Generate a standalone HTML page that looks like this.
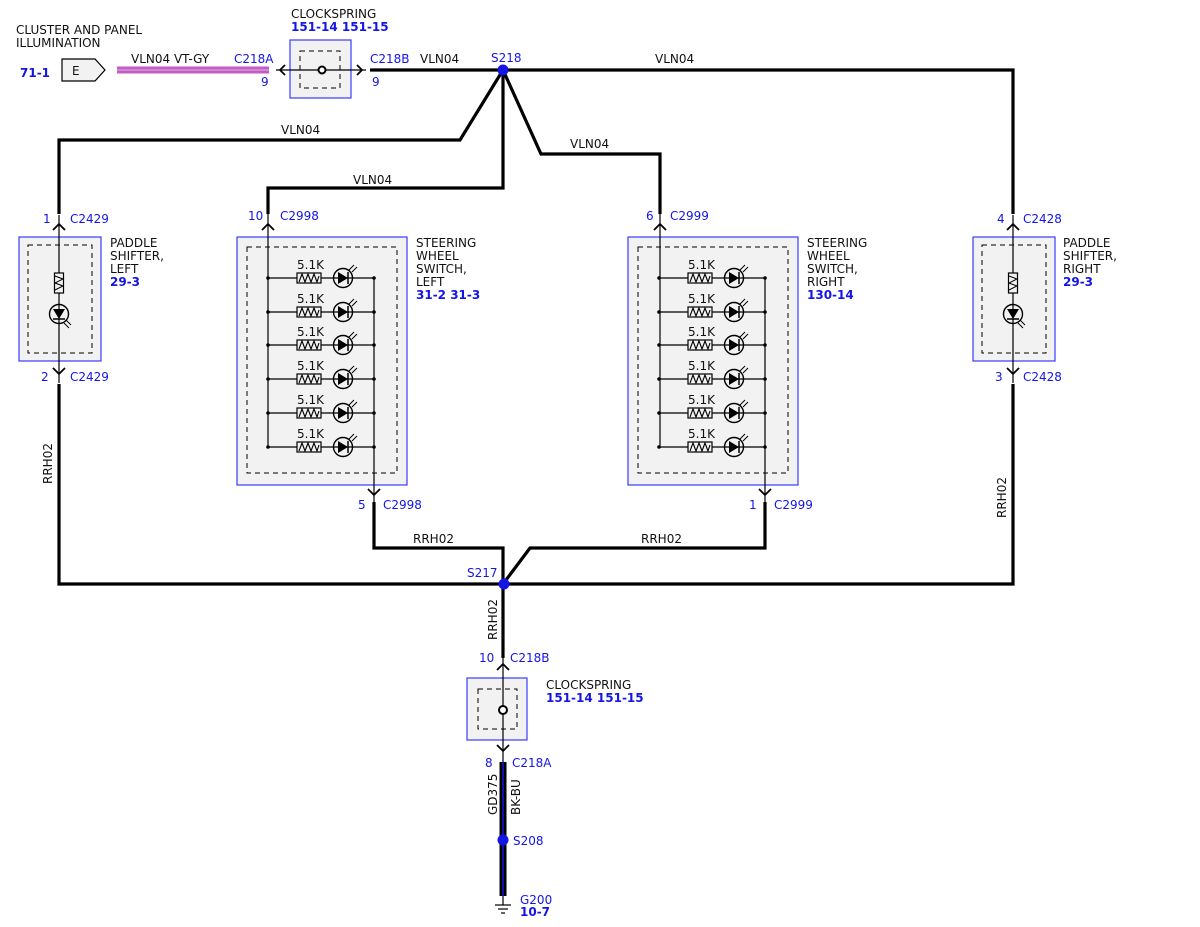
<!DOCTYPE html>
<html><head><meta charset="utf-8"><style>
html,body{margin:0;padding:0;background:#fff}
svg{display:block}
text{font-family:"DejaVu Sans","Liberation Sans",sans-serif;font-size:12px}
.b{fill:#1515e6}
.bb{fill:#1515e6;font-weight:bold}
.k{fill:#111}
</style></head><body>
<svg width="1200" height="927" viewBox="0 0 1200 927" xmlns="http://www.w3.org/2000/svg">
<defs>
<g id="row">
  <line x1="0" y1="0" x2="106" y2="0" stroke="#000" stroke-width="1.2"/>
  <rect x="29" y="-5" width="24" height="10" fill="#f2f2f2" stroke="#000" stroke-width="1.2"/>
  <polyline points="31,4 34,-4 37,4 40,-4 43,4 46,-4 49,4 51,-2" fill="none" stroke="#000" stroke-width="1.1"/>
  <circle cx="75" cy="0" r="9.5" fill="#f2f2f2" stroke="#000" stroke-width="1.4"/>
  <line x1="66" y1="0" x2="84" y2="0" stroke="#000" stroke-width="1.2"/>
  <polygon points="70,-6 70,6 80,0" fill="#000"/>
  <line x1="80" y1="-6" x2="80" y2="6" stroke="#000" stroke-width="1.5"/>
  <line x1="81" y1="-8" x2="86" y2="-13" stroke="#000" stroke-width="1"/>
  <line x1="84" y1="-6" x2="89" y2="-11" stroke="#000" stroke-width="1"/>
  <circle cx="0" cy="0" r="1.8" fill="#000"/>
  <circle cx="106" cy="0" r="1.8" fill="#000"/>
</g>
<g id="upar"><polyline points="-6,5 0,-1 6,5" fill="none" stroke="#000" stroke-width="1.8"/></g>
<g id="dnar"><polyline points="-6,-5 0,1 6,-5" fill="none" stroke="#000" stroke-width="1.8"/></g>
<g id="pad">
  <rect x="-40" y="0" width="82" height="124" fill="#f2f2f2" stroke="#3a3aff" stroke-width="1.2"/>
  <rect x="-31" y="8" width="64" height="108" fill="none" stroke="#000" stroke-dasharray="5,4"/>
  <line x1="0" y1="-22" x2="0" y2="146" stroke="#000" stroke-width="1.2"/>
  <rect x="-4.5" y="36" width="9" height="20" fill="#f2f2f2" stroke="#000" stroke-width="1.2"/>
  <polyline points="-4,39 4,42 -4,46 4,49 -4,53" fill="none" stroke="#000"/>
  <circle cx="0" cy="77" r="9.5" fill="#f2f2f2" stroke="#000" stroke-width="1.4"/>
  <line x1="0" y1="68" x2="0" y2="86" stroke="#000" stroke-width="1.2"/>
  <polygon points="-6,72 6,72 0,82" fill="#000"/>
  <line x1="-6" y1="82" x2="6" y2="82" stroke="#000" stroke-width="1.5"/>
  <line x1="7" y1="83" x2="12" y2="88" stroke="#000"/>
  <line x1="5" y1="86" x2="10" y2="91" stroke="#000"/>
</g>
</defs>

<text x="16" y="34" class="k">CLUSTER AND PANEL</text>
<text x="16" y="47" class="k">ILLUMINATION</text>
<text x="20" y="77" class="bb">71-1</text>
<polygon points="62,59 95,59 105,70 95,81 62,81" fill="#f2f2f2" stroke="#000" stroke-width="1.2"/>
<text x="72" y="75" class="k">E</text>
<rect x="117" y="66.5" width="152" height="7" fill="#c85ac8"/>
<line x1="117" y1="70" x2="269" y2="70" stroke="#fff" stroke-width="1.2"/>
<line x1="117" y1="70" x2="269" y2="70" stroke="#7a2b7a" stroke-width="0.5"/>
<text x="131" y="63" class="k">VLN04  VT-GY</text>
<text x="234" y="63" class="b">C218A</text>
<text x="261" y="86" class="b">9</text>
<text x="291" y="18" class="k">CLOCKSPRING</text>
<text x="291" y="31" class="bb">151-14 151-15</text>
<rect x="290" y="40" width="61" height="58" fill="#f2f2f2" stroke="#3a3aff" stroke-width="1.2"/>
<rect x="300" y="51" width="40" height="37" fill="none" stroke="#000" stroke-dasharray="5,4"/>
<line x1="276" y1="70" x2="366" y2="70" stroke="#000" stroke-width="1.2"/>
<circle cx="322" cy="70" r="3.5" fill="#fff" stroke="#000" stroke-width="2"/>
<polyline points="285,65 280,70 285,75" fill="none" stroke="#000" stroke-width="1.8"/>
<polyline points="357,65 362,70 357,75" fill="none" stroke="#000" stroke-width="1.8"/>
<text x="370" y="63" class="b">C218B</text>
<text x="372" y="86" class="b">9</text>

<g fill="none" stroke="#000" stroke-width="3.2">
<polyline points="370,70 1013,70 1013,214"/>
<polyline points="503,70 460,140 59,140 59,214"/>
<polyline points="503,70 503,188 268,188 268,214"/>
<polyline points="503,70 541,154 660,154 660,214"/>
<polyline points="59,384 59,584 1013,584 1013,384"/>
<polyline points="374,502 374,548 503,548 503,658"/>
<polyline points="503,584 530,548 765,548 765,502"/>
</g>
<text x="420" y="63" class="k">VLN04</text>
<text x="655" y="63" class="k">VLN04</text>
<text x="281" y="134" class="k">VLN04</text>
<text x="353" y="184" class="k">VLN04</text>
<text x="570" y="148" class="k">VLN04</text>
<text x="413" y="543" class="k">RRH02</text>
<text x="641" y="543" class="k">RRH02</text>
<text transform="translate(52,484) rotate(-90)" class="k">RRH02</text>
<text transform="translate(1006,518) rotate(-90)" class="k">RRH02</text>
<text transform="translate(497,640) rotate(-90)" class="k">RRH02</text>
<circle cx="503" cy="70" r="5.5" fill="#1515e6"/>
<text x="491" y="62" class="b">S218</text>
<circle cx="504" cy="584" r="5.5" fill="#1515e6"/>
<text x="467" y="577" class="b">S217</text>

<use href="#pad" x="59" y="237"/>
<use href="#upar" x="59" y="225"/>
<use href="#dnar" x="59" y="373"/>
<text x="43" y="223" class="b">1</text><text x="70" y="223" class="b">C2429</text>
<text x="41" y="381" class="b">2</text><text x="70" y="381" class="b">C2429</text>
<text x="110" y="247" class="k">PADDLE</text>
<text x="110" y="260" class="k">SHIFTER,</text>
<text x="110" y="273" class="k">LEFT</text>
<text x="110" y="286" class="bb">29-3</text>

<use href="#pad" x="1013" y="237"/>
<use href="#upar" x="1013" y="225"/>
<use href="#dnar" x="1013" y="373"/>
<text x="997" y="223" class="b">4</text><text x="1023" y="223" class="b">C2428</text>
<text x="995" y="381" class="b">3</text><text x="1023" y="381" class="b">C2428</text>
<text x="1063" y="247" class="k">PADDLE</text>
<text x="1063" y="260" class="k">SHIFTER,</text>
<text x="1063" y="273" class="k">RIGHT</text>
<text x="1063" y="286" class="bb">29-3</text>

<rect x="237" y="237" width="170" height="248" fill="#f2f2f2" stroke="#3a3aff" stroke-width="1.2"/>
<rect x="247" y="247" width="150" height="226" fill="none" stroke="#000" stroke-dasharray="5,4"/>
<line x1="268" y1="212" x2="268" y2="447" stroke="#000" stroke-width="1.2"/>
<line x1="374" y1="278" x2="374" y2="504" stroke="#000" stroke-width="1.2"/>
<g transform="translate(268,0)">
<use href="#row" y="278"/><use href="#row" y="312"/><use href="#row" y="345"/>
<use href="#row" y="379"/><use href="#row" y="413"/><use href="#row" y="447"/>
</g>
<text x="297" y="269" class="k">5.1K</text><text x="297" y="303" class="k">5.1K</text><text x="297" y="336" class="k">5.1K</text>
<text x="297" y="370" class="k">5.1K</text><text x="297" y="404" class="k">5.1K</text><text x="297" y="438" class="k">5.1K</text>
<use href="#upar" x="268" y="225"/>
<use href="#dnar" x="374" y="494"/>
<text x="248" y="220" class="b">10</text><text x="280" y="220" class="b">C2998</text>
<text x="358" y="509" class="b">5</text><text x="383" y="509" class="b">C2998</text>
<text x="416" y="247" class="k">STEERING</text>
<text x="416" y="260" class="k">WHEEL</text>
<text x="416" y="273" class="k">SWITCH,</text>
<text x="416" y="286" class="k">LEFT</text>
<text x="416" y="299" class="bb">31-2  31-3</text>

<rect x="628" y="237" width="170" height="248" fill="#f2f2f2" stroke="#3a3aff" stroke-width="1.2"/>
<rect x="638" y="247" width="150" height="226" fill="none" stroke="#000" stroke-dasharray="5,4"/>
<line x1="660" y1="212" x2="660" y2="447" stroke="#000" stroke-width="1.2"/>
<line x1="765" y1="278" x2="765" y2="504" stroke="#000" stroke-width="1.2"/>
<g transform="translate(659,0)">
<use href="#row" y="278"/><use href="#row" y="312"/><use href="#row" y="345"/>
<use href="#row" y="379"/><use href="#row" y="413"/><use href="#row" y="447"/>
</g>
<text x="688" y="269" class="k">5.1K</text><text x="688" y="303" class="k">5.1K</text><text x="688" y="336" class="k">5.1K</text>
<text x="688" y="370" class="k">5.1K</text><text x="688" y="404" class="k">5.1K</text><text x="688" y="438" class="k">5.1K</text>
<use href="#upar" x="660" y="225"/>
<use href="#dnar" x="765" y="494"/>
<text x="646" y="220" class="b">6</text><text x="670" y="220" class="b">C2999</text>
<text x="749" y="509" class="b">1</text><text x="774" y="509" class="b">C2999</text>
<text x="807" y="247" class="k">STEERING</text>
<text x="807" y="260" class="k">WHEEL</text>
<text x="807" y="273" class="k">SWITCH,</text>
<text x="807" y="286" class="k">RIGHT</text>
<text x="807" y="299" class="bb">130-14</text>

<use href="#upar" x="503" y="665"/>
<text x="479" y="662" class="b">10</text><text x="510" y="662" class="b">C218B</text>
<rect x="467" y="678" width="60" height="62" fill="#f2f2f2" stroke="#3a3aff" stroke-width="1.2"/>
<rect x="478" y="689" width="39" height="40" fill="none" stroke="#000" stroke-dasharray="5,4"/>
<line x1="503" y1="656" x2="503" y2="764" stroke="#000" stroke-width="1.2"/>
<circle cx="503" cy="710" r="4" fill="#fff" stroke="#000" stroke-width="2"/>
<use href="#dnar" x="503" y="750"/>
<text x="546" y="689" class="k">CLOCKSPRING</text>
<text x="546" y="702" class="bb">151-14 151-15</text>
<text x="485" y="767" class="b">8</text><text x="512" y="767" class="b">C218A</text>
<line x1="503" y1="762" x2="503" y2="896" stroke="#000" stroke-width="7"/>
<line x1="503" y1="762" x2="503" y2="896" stroke="#1515e6" stroke-width="1.5"/>
<circle cx="503" cy="840" r="5.5" fill="#1515e6"/>
<text x="513" y="845" class="b">S208</text>
<text transform="translate(497,815) rotate(-90)" class="k">GD375</text>
<text transform="translate(520,815) rotate(-90)" class="k">BK-BU</text>
<line x1="503" y1="896" x2="503" y2="905" stroke="#000" stroke-width="1.2"/>
<line x1="495" y1="905" x2="511" y2="905" stroke="#000" stroke-width="1.2"/>
<line x1="498" y1="909" x2="508" y2="909" stroke="#000" stroke-width="1.2"/>
<line x1="501" y1="913" x2="505" y2="913" stroke="#000" stroke-width="1.2"/>
<text x="520" y="904" class="b">G200</text>
<text x="520" y="916" class="bb">10-7</text>
</svg>
</body></html>
